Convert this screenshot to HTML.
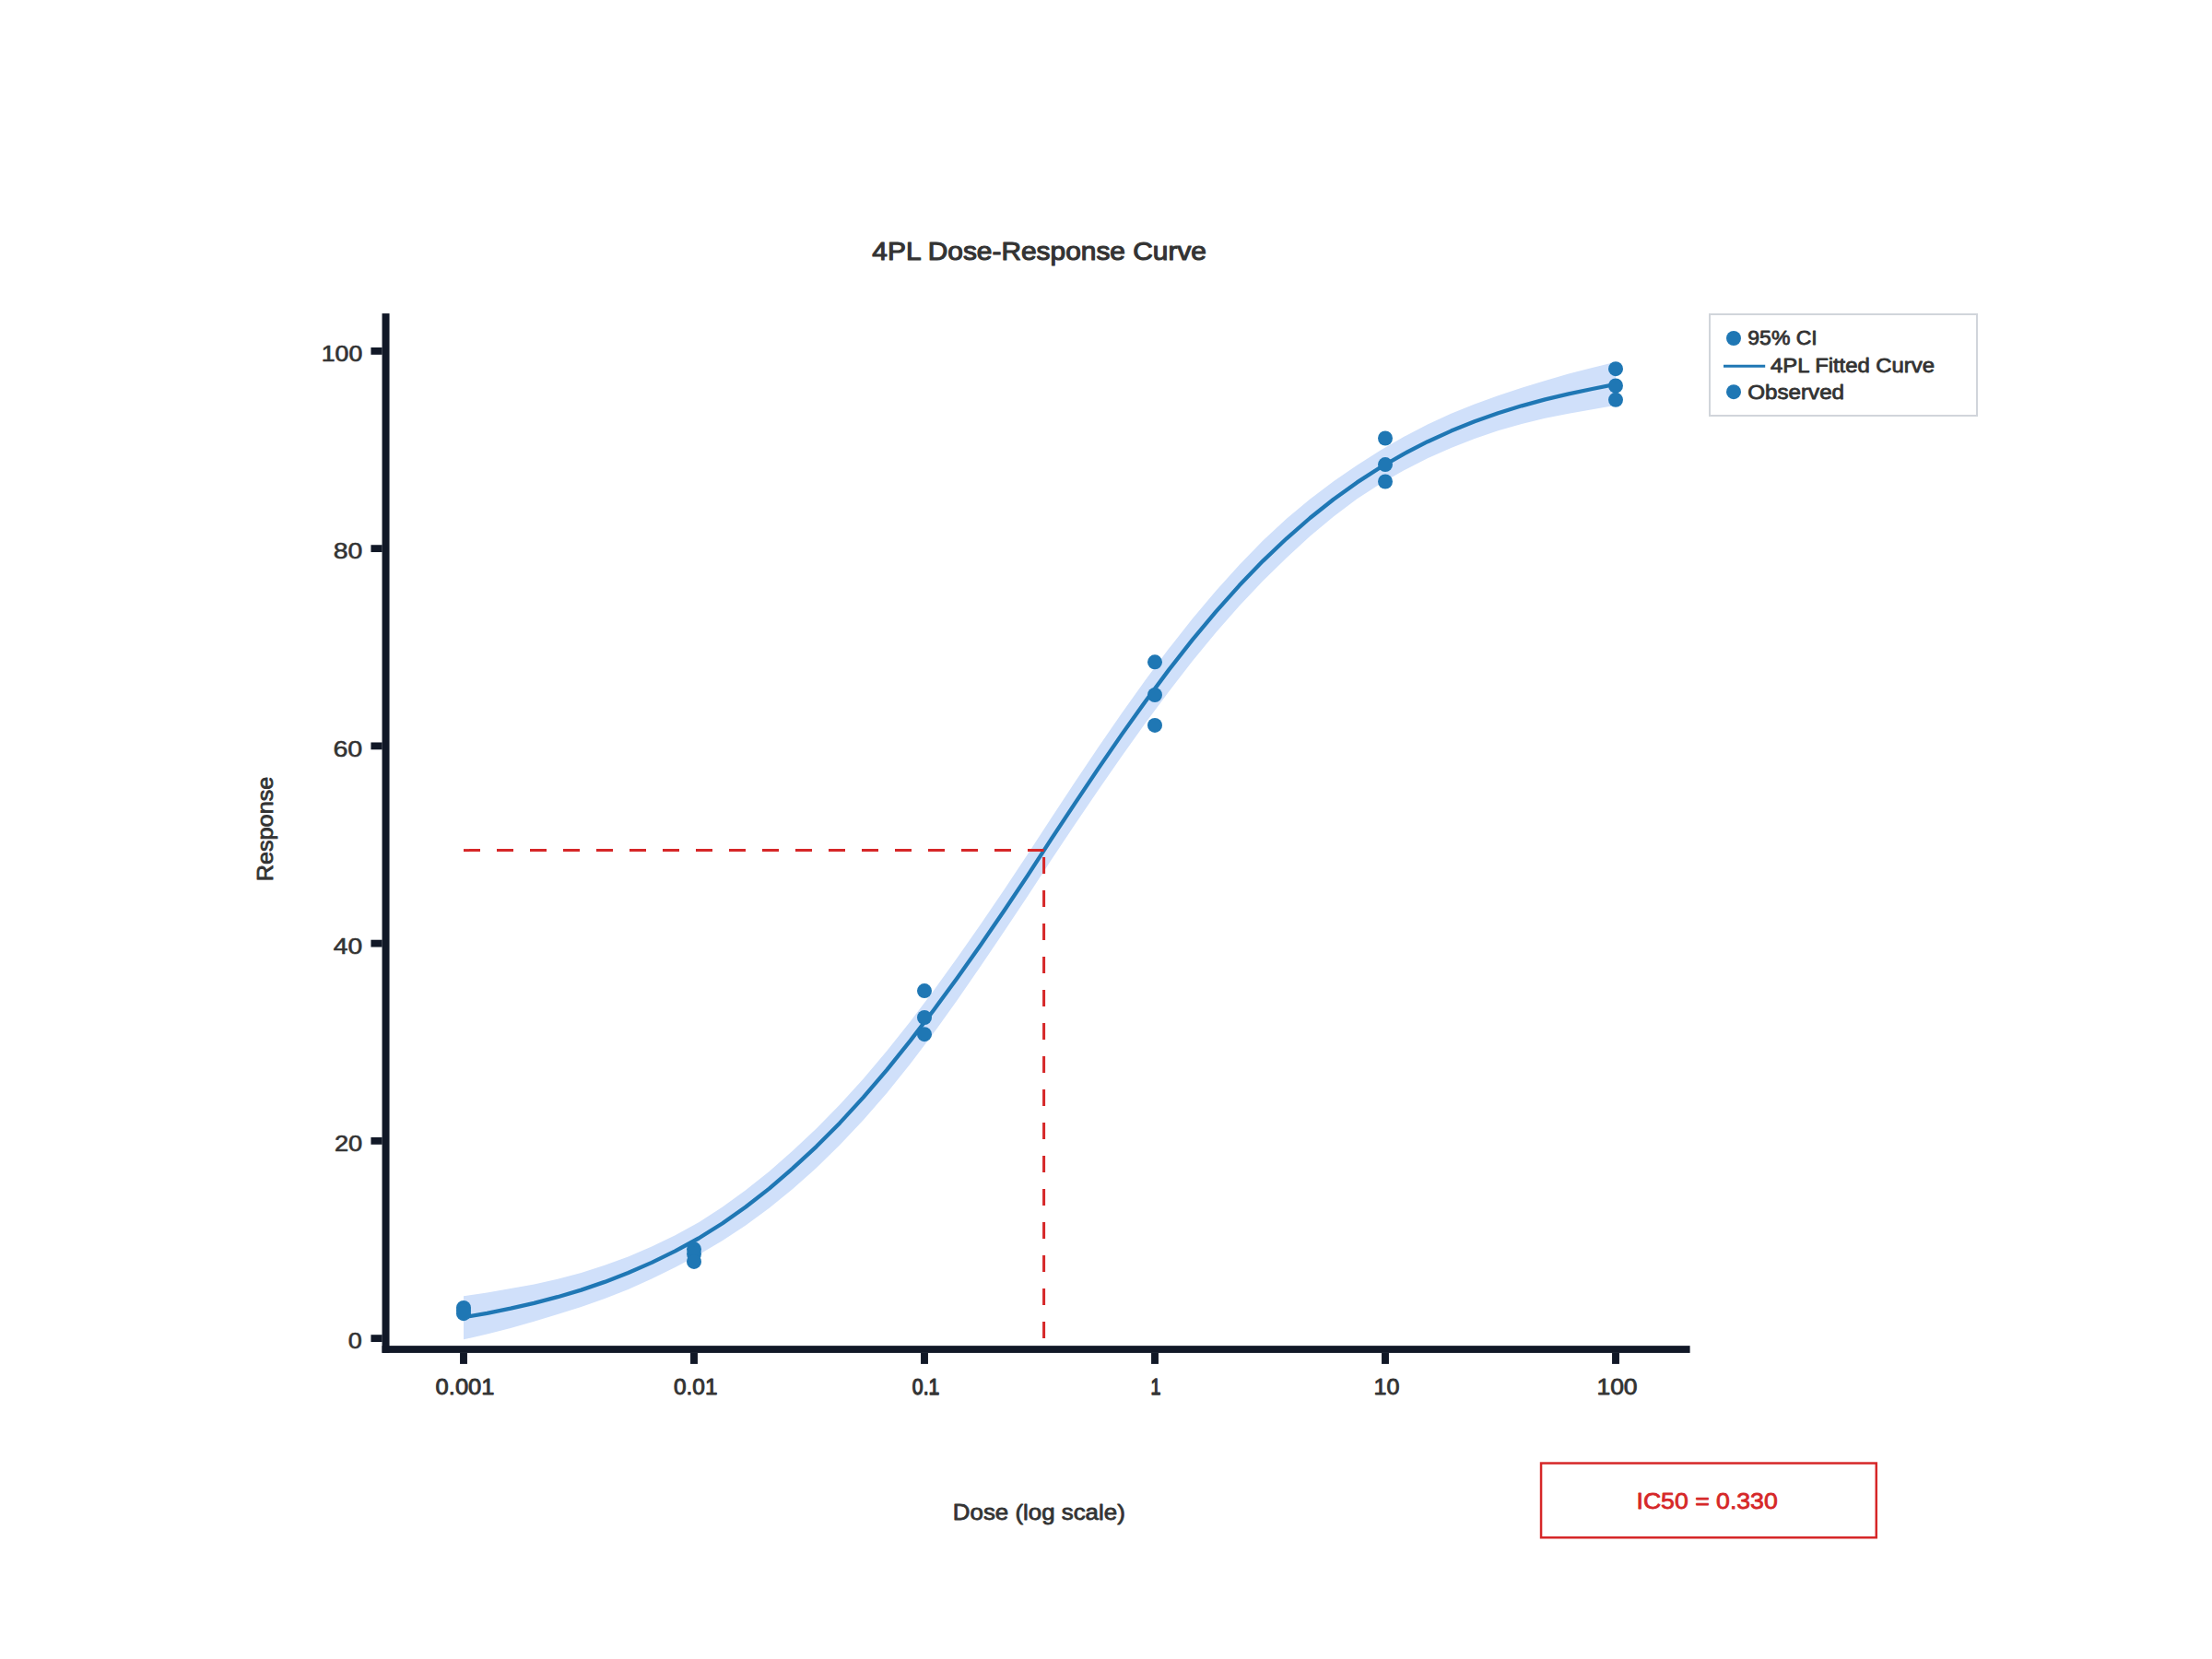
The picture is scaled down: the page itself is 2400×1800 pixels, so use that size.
<!DOCTYPE html>
<html lang="en">
<head>
<meta charset="utf-8">
<title>4PL Dose-Response Curve</title>
<style>
html,body{margin:0;padding:0;background:#ffffff;}
svg{display:block;}
text{font-family:"Liberation Sans", sans-serif;}
</style>
</head>
<body>
<svg width="2400" height="1800" viewBox="0 0 2400 1800">
<rect x="0" y="0" width="2400" height="1800" fill="#ffffff"/>
<!-- 95% CI band -->
<polygon points="503.0,1406.3 528.5,1402.4 554.0,1398.1 579.5,1393.4 605.0,1387.8 630.6,1380.9 656.1,1372.8 681.6,1363.4 707.1,1352.5 732.6,1340.2 758.1,1326.2 783.6,1309.8 809.1,1291.3 834.6,1270.9 860.1,1248.5 885.7,1224.5 911.2,1198.5 936.7,1170.4 962.2,1140.3 987.7,1108.3 1013.2,1074.4 1038.7,1039.1 1064.2,1002.5 1089.7,964.9 1115.2,926.6 1140.8,887.2 1166.3,848.6 1191.8,810.6 1217.3,773.5 1242.8,737.8 1268.3,703.6 1293.8,671.3 1319.3,640.9 1344.8,612.7 1370.3,586.5 1395.9,562.7 1421.4,541.4 1446.9,522.2 1472.4,504.7 1497.9,488.4 1523.4,473.7 1548.9,460.5 1574.4,448.8 1599.9,438.4 1625.4,429.2 1651.0,420.8 1676.5,412.9 1702.0,405.6 1727.5,399.0 1753.0,392.8 1753.0,439.8 1727.5,444.3 1702.0,448.7 1676.5,453.8 1651.0,459.9 1625.4,467.3 1599.9,476.0 1574.4,486.0 1548.9,497.3 1523.4,510.2 1497.9,524.8 1472.4,541.3 1446.9,560.4 1421.4,581.8 1395.9,605.2 1370.3,630.2 1344.8,657.2 1319.3,686.3 1293.8,717.3 1268.3,750.2 1242.8,784.5 1217.3,820.2 1191.8,857.0 1166.3,894.5 1140.8,932.7 1115.2,971.9 1089.7,1010.3 1064.2,1048.1 1038.7,1085.0 1013.2,1120.6 987.7,1154.3 962.2,1185.9 936.7,1215.2 911.2,1242.3 885.7,1267.3 860.1,1290.1 834.6,1310.8 809.1,1329.5 783.6,1346.2 758.1,1361.4 732.6,1375.0 707.1,1387.6 681.6,1398.9 656.1,1409.0 630.6,1418.0 605.0,1426.1 579.5,1433.8 554.0,1440.9 528.5,1447.4 503.0,1453.3" fill="#d0e0fa"/>
<!-- fitted curve -->
<polyline points="503.0,1429.3 528.5,1424.8 554.0,1419.6 579.5,1413.8 605.0,1407.2 630.6,1399.6 656.1,1390.9 681.6,1381.0 707.1,1369.9 732.6,1357.4 758.1,1343.5 783.6,1327.5 809.1,1309.5 834.6,1289.6 860.1,1267.7 885.7,1244.1 911.2,1218.4 936.7,1190.6 962.2,1160.8 987.7,1129.1 1013.2,1095.7 1038.7,1061.0 1064.2,1024.9 1089.7,987.8 1115.2,949.6 1140.8,910.2 1166.3,871.6 1191.8,833.6 1217.3,796.6 1242.8,760.9 1268.3,726.6 1293.8,694.2 1319.3,663.6 1344.8,635.1 1370.3,608.6 1395.9,584.3 1421.4,562.0 1446.9,541.7 1472.4,523.4 1497.9,507.0 1523.4,492.3 1548.9,479.2 1574.4,467.6 1599.9,457.3 1625.4,448.3 1651.0,440.3 1676.5,433.4 1702.0,427.4 1727.5,422.0 1753.0,416.8" fill="none" stroke="#1f77b4" stroke-width="4.3" stroke-linejoin="round"/>
<!-- IC50 guides -->
<line x1="503.0" y1="922.6" x2="1132.6" y2="922.6" stroke="#d62728" stroke-width="3" stroke-dasharray="18 18"/>
<line x1="1132.6" y1="1452.1" x2="1132.6" y2="922.6" stroke="#d62728" stroke-width="3" stroke-dasharray="18 18"/>
<!-- observed points -->
<circle cx="503.0" cy="1419.0" r="8" fill="#1f77b4"/>
<circle cx="503.0" cy="1422.1" r="8" fill="#1f77b4"/>
<circle cx="503.0" cy="1425.2" r="8" fill="#1f77b4"/>
<circle cx="753.0" cy="1355.3" r="8" fill="#1f77b4"/>
<circle cx="753.0" cy="1360.5" r="8" fill="#1f77b4"/>
<circle cx="753.0" cy="1368.9" r="8" fill="#1f77b4"/>
<circle cx="1003.0" cy="1075.1" r="8" fill="#1f77b4"/>
<circle cx="1003.0" cy="1104.0" r="8" fill="#1f77b4"/>
<circle cx="1003.0" cy="1122.2" r="8" fill="#1f77b4"/>
<circle cx="1253.0" cy="718.3" r="8" fill="#1f77b4"/>
<circle cx="1253.0" cy="754.0" r="8" fill="#1f77b4"/>
<circle cx="1253.0" cy="786.9" r="8" fill="#1f77b4"/>
<circle cx="1503.0" cy="475.5" r="8" fill="#1f77b4"/>
<circle cx="1503.0" cy="504.1" r="8" fill="#1f77b4"/>
<circle cx="1503.0" cy="522.5" r="8" fill="#1f77b4"/>
<circle cx="1753.0" cy="400.2" r="8" fill="#1f77b4"/>
<circle cx="1753.0" cy="418.5" r="8" fill="#1f77b4"/>
<circle cx="1753.0" cy="433.8" r="8" fill="#1f77b4"/>
<!-- axes -->
<rect x="414.55" y="340.1" width="8" height="1127.7" fill="#111827"/>
<rect x="414.55" y="1460.12" width="1419.05" height="7.8" fill="#111827"/>
<rect x="402.45" y="1448.20" width="12.2" height="7.8" fill="#111827"/>
<rect x="402.45" y="1233.96" width="12.2" height="7.8" fill="#111827"/>
<rect x="402.45" y="1019.72" width="12.2" height="7.8" fill="#111827"/>
<rect x="402.45" y="805.48" width="12.2" height="7.8" fill="#111827"/>
<rect x="402.45" y="591.24" width="12.2" height="7.8" fill="#111827"/>
<rect x="402.45" y="377.00" width="12.2" height="7.8" fill="#111827"/>
<rect x="499.05" y="1467.7" width="7.9" height="12.2" fill="#111827"/>
<rect x="749.05" y="1467.7" width="7.9" height="12.2" fill="#111827"/>
<rect x="999.05" y="1467.7" width="7.9" height="12.2" fill="#111827"/>
<rect x="1249.05" y="1467.7" width="7.9" height="12.2" fill="#111827"/>
<rect x="1499.05" y="1467.7" width="7.9" height="12.2" fill="#111827"/>
<rect x="1749.05" y="1467.7" width="7.9" height="12.2" fill="#111827"/>
<!-- tick labels -->
<text id="y0" x="377.79" y="1463.22" font-size="24.73" fill="#333333" stroke="#333333" stroke-width="0.63" stroke-linejoin="round" textLength="15.07" lengthAdjust="spacingAndGlyphs">0</text>
<text id="y20" x="362.90" y="1248.97" font-size="24.7" fill="#333333" stroke="#333333" stroke-width="0.65" stroke-linejoin="round" textLength="30.37" lengthAdjust="spacingAndGlyphs">20</text>
<text id="y40" x="361.87" y="1034.76" font-size="24.78" fill="#333333" stroke="#333333" stroke-width="0.59" stroke-linejoin="round" textLength="31.45" lengthAdjust="spacingAndGlyphs">40</text>
<text id="y60" x="361.40" y="820.54" font-size="24.84" fill="#333333" stroke="#333333" stroke-width="0.55" stroke-linejoin="round" textLength="31.94" lengthAdjust="spacingAndGlyphs">60</text>
<text id="y80" x="361.66" y="606.29" font-size="24.81" fill="#333333" stroke="#333333" stroke-width="0.57" stroke-linejoin="round" textLength="31.68" lengthAdjust="spacingAndGlyphs">80</text>
<text id="y100" x="348.79" y="391.97" font-size="24.58" fill="#333333" stroke="#333333" stroke-width="0.73" stroke-linejoin="round" textLength="44.44" lengthAdjust="spacingAndGlyphs">100</text>
<text id="x-3" x="472.60" y="1512.78" font-size="24.46" fill="#333333" stroke="#333333" stroke-width="0.89" stroke-linejoin="round" textLength="63.93" lengthAdjust="spacingAndGlyphs">0.001</text>
<text id="x-2" x="731.00" y="1512.73" font-size="24.33" fill="#333333" stroke="#333333" stroke-width="0.98" stroke-linejoin="round" textLength="47.50" lengthAdjust="spacingAndGlyphs">0.01</text>
<text id="x-1" x="989.86" y="1512.60" font-size="23.96" fill="#333333" stroke="#333333" stroke-width="1.25" stroke-linejoin="round" textLength="29.56" lengthAdjust="spacingAndGlyphs">0.1</text>
<text id="x0" x="1248.51" y="1512.56" font-size="23.85" fill="#333333" stroke="#333333" stroke-width="1.33" stroke-linejoin="round" textLength="10.96" lengthAdjust="spacingAndGlyphs">1</text>
<text id="x1" x="1490.54" y="1512.78" font-size="24.44" fill="#333333" stroke="#333333" stroke-width="0.9" stroke-linejoin="round" textLength="27.93" lengthAdjust="spacingAndGlyphs">10</text>
<text id="x2" x="1732.40" y="1512.83" font-size="24.58" fill="#333333" stroke="#333333" stroke-width="0.8" stroke-linejoin="round" textLength="44.23" lengthAdjust="spacingAndGlyphs">100</text>
<!-- titles -->
<text id="title" x="946.35" y="282.40" font-size="28.0" fill="#333333" stroke="#333333" stroke-width="1.1" stroke-linejoin="round" textLength="362.62" lengthAdjust="spacingAndGlyphs">4PL Dose-Response Curve</text>
<text id="dose" x="1033.85" y="1648.60" font-size="24.3" fill="#333333" stroke="#333333" stroke-width="0.8" stroke-linejoin="round" textLength="186.93" lengthAdjust="spacingAndGlyphs">Dose (log scale)</text>
<text id="resp" transform="translate(295.80 956.30) rotate(-90)" x="0" y="0" font-size="24.3" fill="#333333" stroke="#333333" stroke-width="0.8" stroke-linejoin="round" textLength="113.64" lengthAdjust="spacingAndGlyphs">Response</text>
<!-- legend -->
<rect x="1855" y="341" width="290" height="110" fill="#ffffff" stroke="#d1d5db" stroke-width="2"/>
<circle cx="1881" cy="367" r="8" fill="#1f77b4"/>
<line x1="1870" y1="397.3" x2="1915.2" y2="397.3" stroke="#1f77b4" stroke-width="3"/>
<circle cx="1881" cy="425.2" r="8" fill="#1f77b4"/>
<text id="leg1" x="1896.34" y="374.40" font-size="21.9" fill="#333333" stroke="#333333" stroke-width="0.8" stroke-linejoin="round" textLength="75.44" lengthAdjust="spacingAndGlyphs">95% CI</text>
<text id="leg2" x="1921.00" y="403.50" font-size="21.9" fill="#333333" stroke="#333333" stroke-width="0.8" stroke-linejoin="round" textLength="177.93" lengthAdjust="spacingAndGlyphs">4PL Fitted Curve</text>
<text id="leg3" x="1896.34" y="432.60" font-size="21.9" fill="#333333" stroke="#333333" stroke-width="0.8" stroke-linejoin="round" textLength="104.65" lengthAdjust="spacingAndGlyphs">Observed</text>
<!-- IC50 annotation -->
<rect x="1672.05" y="1587.55" width="363.7" height="80.7" fill="#ffffff" stroke="#d62728" stroke-width="2.5"/>
<text id="ic50" x="1775.51" y="1636.50" font-size="24.6" fill="#d62728" stroke="#d62728" stroke-width="0.8" stroke-linejoin="round" textLength="153.21" lengthAdjust="spacingAndGlyphs">IC50 = 0.330</text>
</svg>
</body>
</html>
